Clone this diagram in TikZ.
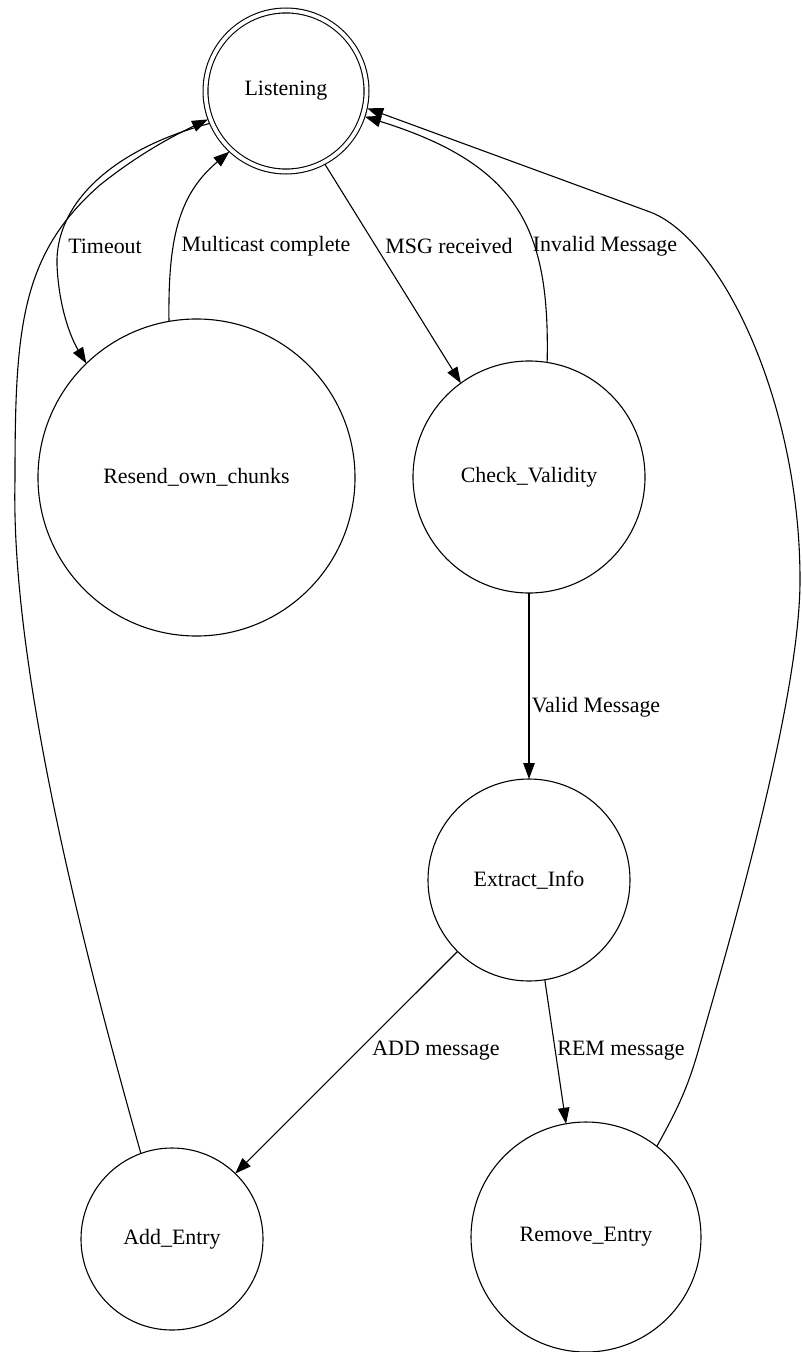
\documentclass[tikz,border=0pt]{standalone}
\usepackage{fontspec}
\setmainfont{Liberation Serif}
\usetikzlibrary{arrows.meta}
\begin{document}
\begin{tikzpicture}[x=1bp,y=-1bp,
  every node/.style={font=\fontsize{22}{26}\selectfont},
  state/.style={draw,circle,line width=1.1bp,inner sep=0pt,outer sep=0pt},
  edge/.style={line width=1.1bp,-{Triangle[length=16bp,width=11.5bp]}},
  lbl/.style={inner sep=0pt}]
\useasboundingbox (0,0) rectangle (801,1352);
\node[state,double,double distance=3.8bp,minimum size=161bp,outer sep=2.5bp] (L) at (286,91) {Listening};
\node[state,minimum size=317bp] (R) at (196.5,477.5) {Resend\_own\_chunks};
\node[state,minimum size=232bp] (C) at (529,477) {Check\_Validity};
\node[state,minimum size=202bp] (E) at (529,880) {Extract\_Info};
\node[state,minimum size=182bp] (A) at (172,1239) {Add\_Entry};
\node[state,minimum size=230bp] (M) at (586,1237) {Remove\_Entry};

\draw[edge] (L.203) .. controls (110,150) and (55,205) .. (57,265) .. controls (59,310) and (72,340) .. (R.134);
\draw[edge] (R.100) .. controls (168,240) and (178,195) .. (L.227);
\draw[edge] (L.298) -- (C.126);
\draw[edge] (C.81) .. controls (550,230) and (520,165) .. (L.342);
\draw[edge] (C.270) -- (E.90);
\draw[edge] (E.225) -- (A.46);
\draw[edge] (E.279) -- (M.100);
\draw[edge] (A.110) .. controls (95,990) and (10,680) .. (15,480) .. controls (15,330) and (20,255) .. (100,185) .. controls (140,153) and (175,135) .. (L.200);
\draw[edge] (M.52) .. controls (680,1105) and (688,1085) .. (697,1055) .. controls (730,940) and (800,700) .. (800,580) .. controls (800,400) and (720,238) .. (650,212) -- (L.348);

\node[lbl] (tl) at (105,246) {Timeout};
\node[lbl] (ml) at (266,246) {Multicast complete};
\node[lbl] (sl) at (449,246) {MSG received};
\node[lbl] (il) at (605,246) {Invalid Message};
\node[lbl] (vl) at (596,707) {Valid Message};
\node[lbl] (al) at (436,1051) {ADD message};
\node[lbl] (rl) at (621,1051) {REM message};
\end{tikzpicture}
\end{document}
